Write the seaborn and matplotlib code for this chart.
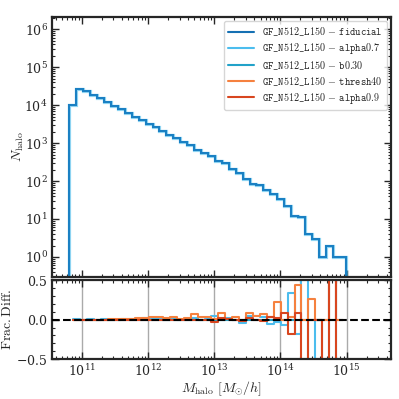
import numpy as np
import pandas as pd
import matplotlib
matplotlib.use("Agg")
import matplotlib.pyplot as plt
from matplotlib.lines import Line2D
import seaborn as sns

# log10 halo-mass bin range, 40 equal log bins
log_m_lo = 10.813
log_m_hi = 14.997
n_bins = 40

# fiducial halo counts per bin (top panel)
n_fiducial = [10000, 27000, 24000, 19000, 15200, 12300, 9800, 7800, 6200, 4900,
              4000, 3250, 2630, 2100, 1650, 1340, 1100, 890, 660, 540,
              460, 345, 295, 204, 160, 113, 85, 80, 60, 47,
              33, 22, 12, 11, 4, 3, 1, 2, 1, 1]

# fractional differences w.r.t. fiducial (bottom panel)
frac_alpha07 = [0.0, 0.005, 0.0, 0.005, 0.0, 0.005, 0.0, 0.0, 0.005, 0.01,
                0.01, 0.015, 0.02, 0.02, 0.0, 0.02, 0.0, 0.01, 0.02, -0.01,
                0.01, 0.05, 0.0, 0.02, -0.01, -0.04, 0.05, 0.05, 0.03, -0.05,
                -0.03, -0.07, 0.34, -0.18, 1.0, -1.0, 0.0, -1.0, 1.0, -1.0]
frac_b030 = [0.0] * 40
frac_thresh40 = [0.0, 0.0, 0.0, 0.0, 0.0, 0.0, 0.005, 0.005, 0.01, 0.01,
                 0.02, 0.02, 0.03, 0.035, 0.02, 0.035, 0.01, 0.02, 0.07, 0.03,
                 0.03, 0.01, 0.09, 0.01, 0.03, 0.0, 0.09, 0.04, 0.07, 0.03,
                 0.22, 0.0, 0.03, 0.44, 0.0, 0.26, 0.0, 0.0, 1.0, 0.0]
frac_alpha09 = [-0.005, -0.005, -0.005, -0.005, -0.005, -0.005, -0.005, -0.005, -0.005, -0.005,
                -0.005, 0.0, 0.0, 0.0, 0.0, 0.0, 0.0, 0.0, 0.0, 0.0,
                0.0, -0.03, 0.02, 0.01, 0.0, -0.02, 0.02, 0.0, -0.02, 0.03,
                0.02, 0.09, -0.18, 0.08, -1.0, 0.0, 0.0, -1.0, 1.0, -1.0]

runs = ["fiducial", "alpha0.7", "b0.30", "thresh40", "alpha0.9"]
labels = [r"$\mathtt{GF\_N512\_L150}\,-\,\mathtt{%s}$" % r for r in runs]
colors = ["#1570b3", "#4cbdee", "#22a2c9", "#f5813f", "#d8461f"]

sns.set_style("ticks")
plt.rcParams["mathtext.fontset"] = "cm"
plt.rcParams["font.family"] = "serif"
plt.rcParams["font.serif"] = ["DejaVu Serif"]
plt.rcParams["axes.formatter.use_mathtext"] = True

edges = np.logspace(log_m_lo, log_m_hi, n_bins + 1)
centers = np.sqrt(edges[:-1] * edges[1:])

df = pd.DataFrame({"M": centers, "alpha0.7": frac_alpha07, "b0.30": frac_b030,
                   "thresh40": frac_thresh40, "alpha0.9": frac_alpha09})

fig = plt.figure(figsize=(3.99, 3.99), dpi=100)
gs = fig.add_gridspec(2, 1, height_ratios=[260, 79], hspace=0.02,
                      left=0.13, right=0.979, top=0.957, bottom=0.1)
ax = fig.add_subplot(gs[0])
axr = fig.add_subplot(gs[1], sharex=ax)

# top: halo counts
ax.stairs(n_fiducial, edges, color=colors[1], lw=2.3, alpha=0.6)
ax.stairs(n_fiducial, edges, color="#1a80c3", lw=1.5)
ax.set_xscale("log")
ax.set_yscale("log")
ax.set_ylim(0.3, 2.1e6)
ax.set_xlim(10**10.547, 10**15.664)
ax.set_ylabel(r"$N_{\rm halo}$", fontsize=10, labelpad=-1)
ax.tick_params(labelbottom=False)

# bottom: fractional differences
for col, c in zip(runs[1:], colors[1:]):
    sns.lineplot(data=df, x="M", y=col, ax=axr, color=c, lw=1.5,
                 drawstyle="steps-pre", estimator=None)
axr.axhline(0, color="k", ls="--", lw=1.5, zorder=5)
axr.set_ylim(-0.5, 0.5)
axr.set_yticks([-0.5, 0.0, 0.5])
axr.yaxis.set_minor_locator(matplotlib.ticker.MultipleLocator(0.1))
axr.xaxis.grid(True, which="major", color="#aaaaaa", lw=1)
axr.set_ylabel(r"$\mathrm{Frac.Diff.}$", fontsize=10, labelpad=2)
axr.set_xlabel(r"$M_{\rm halo}\ [M_{\odot}/h]$", fontsize=10, labelpad=0)

for a in (ax, axr):
    a.tick_params(which="both", direction="in", top=True, right=True,
                  labelsize=9, pad=3)
    a.tick_params(which="major", length=5, width=1)
    a.tick_params(which="minor", length=2.5, width=0.8)
    for s in a.spines.values():
        s.set_linewidth(1.6)
axr.tick_params(axis="y", which="minor", labelleft=False)

handles = [Line2D([], [], color=c, lw=1.5) for c in colors]
ax.legend(handles, labels, loc="upper right", fontsize=7.3, frameon=True,
          handlelength=2.5, labelspacing=0.3, borderaxespad=0.4)

fig.savefig("out.png", dpi=100)
